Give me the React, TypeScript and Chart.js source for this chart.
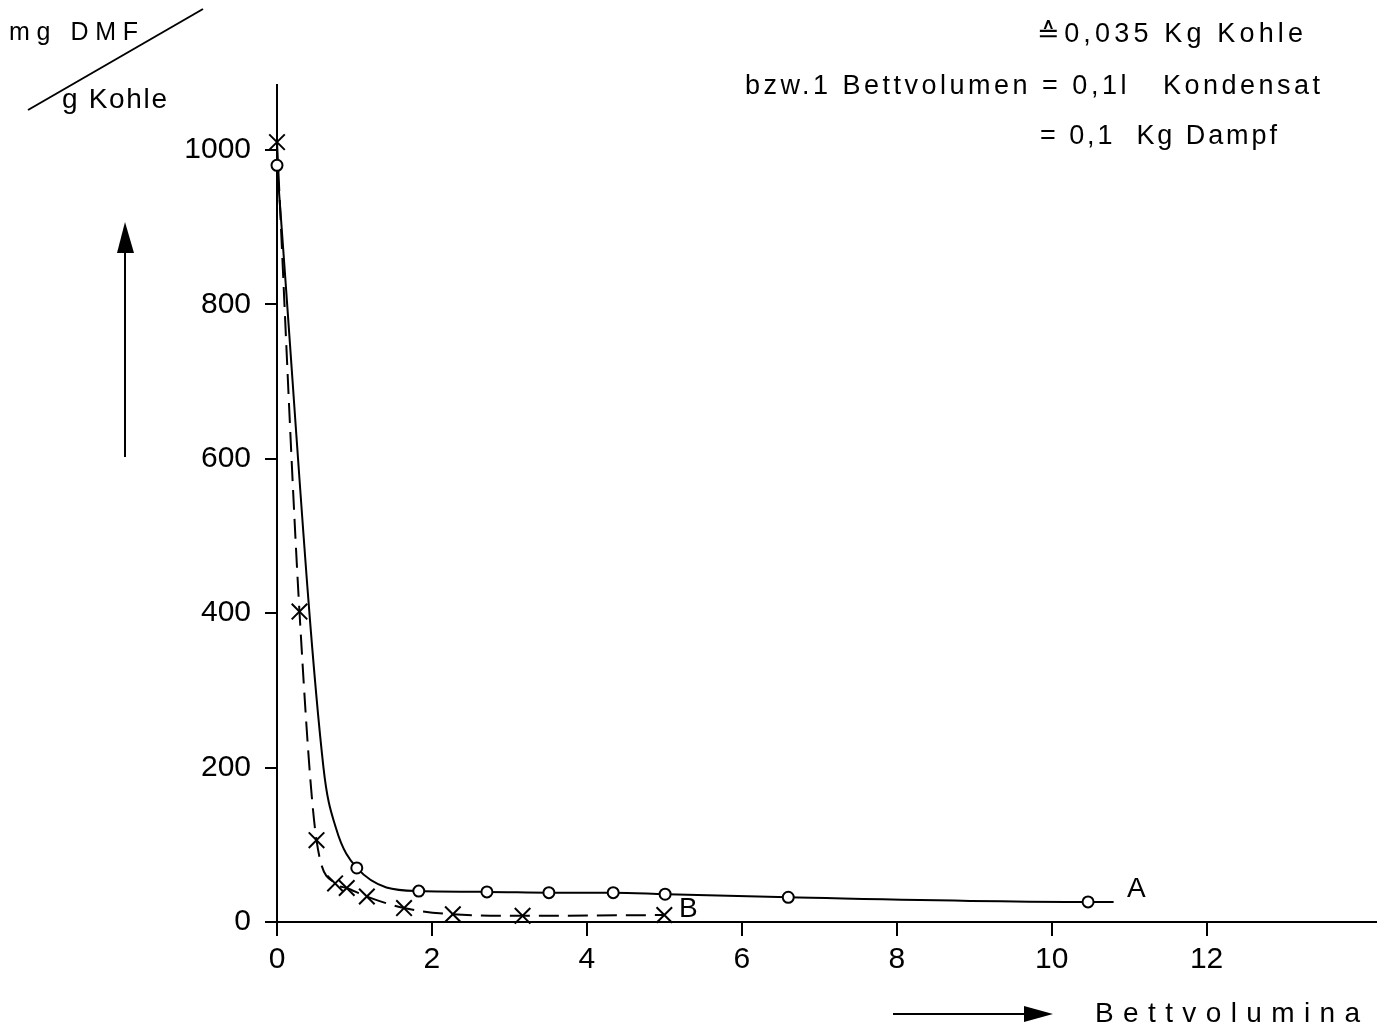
import React, { useEffect, useRef } from "react";
import { Chart, registerables } from "chart.js";

Chart.register(...registerables);

// ---- data ----
const xTickValues = [0, 2, 4, 6, 8, 10, 12];
const yTickValues = [0, 200, 400, 600, 800, 1000];

// Series A (solid line, open circles); unmarked points trace the drawn curve
const seriesAX = [0, 0.6, 0.76, 1.03, 1.83, 2.71, 3.51, 4.34, 5.01, 6.6, 10.47, 10.8];
const seriesAY = [980, 200, 122, 70, 40, 39, 38, 38, 36, 32, 26, 26];
const seriesAMarked = [true, false, false, true, true, true, true, true, true, true, true, false];

// Series B (dashed line, crosses)
const seriesBX = [0, 0.29, 0.51, 0.75, 0.9, 1.16, 1.64, 2.27, 3.17, 5.0];
const seriesBY = [1010, 402, 106, 50, 44, 33, 18, 10, 8, 9];

const FONT = "'Liberation Sans', Arial, sans-serif";

type Label = { text: string; left: number; right?: number; center: number; size: number };
const labels: Label[] = [
  { text: "mg DMF", left: 9, right: 138, center: 31, size: 25 },
  { text: "g Kohle", left: 62, right: 167, center: 99, size: 28 },
  { text: "\u22590,035 Kg Kohle", left: 1037, right: 1303, center: 33, size: 27 },
  { text: "bzw.1 Bettvolumen = 0,1l   Kondensat", left: 745, right: 1320, center: 85, size: 27 },
  { text: "= 0,1  Kg Dampf", left: 1040, right: 1277, center: 135, size: 27 },
  { text: "A", left: 1127, center: 888, size: 28 },
  { text: "B", left: 679, center: 908, size: 28 },
  { text: "Bettvolumina", left: 1095, right: 1360, center: 1013, size: 28 },
];

let measureCtx: CanvasRenderingContext2D | null = null;
function spacingFor(l: Label): number {
  if (l.right === undefined) return 0;
  if (!measureCtx) measureCtx = document.createElement("canvas").getContext("2d");
  if (!measureCtx) return 0;
  measureCtx.font = `${l.size}px ${FONT}`;
  const w = measureCtx.measureText(l.text).width;
  const n = Array.from(l.text).length;
  return (l.right - l.left - w) / Math.max(1, n - 1);
}

const decor = {
  id: "decor",
  afterDraw(chart: any) {
    const c = chart.ctx as CanvasRenderingContext2D;
    c.save();
    c.strokeStyle = "#000";
    c.fillStyle = "#000";
    c.lineWidth = 2;
    c.setLineDash([]);
    // slanted fraction bar
    c.beginPath();
    c.moveTo(28, 110);
    c.lineTo(203, 9);
    c.stroke();
    // upward arrow
    c.beginPath();
    c.moveTo(125, 457);
    c.lineTo(125, 248);
    c.stroke();
    c.beginPath();
    c.moveTo(125, 222);
    c.lineTo(117, 253);
    c.lineTo(134, 253);
    c.closePath();
    c.fill();
    // rightward arrow
    c.beginPath();
    c.moveTo(893, 1014);
    c.lineTo(1030, 1014);
    c.stroke();
    c.beginPath();
    c.moveTo(1053, 1014);
    c.lineTo(1024, 1006);
    c.lineTo(1024, 1022);
    c.closePath();
    c.fill();
    c.restore();
  },
};

export default function App() {
  const ref = useRef<HTMLCanvasElement | null>(null);

  useEffect(() => {
    if (!ref.current) return;
    const dataA = seriesAX.map((x, i) => ({ x, y: seriesAY[i] }));
    const dataB = seriesBX.map((x, i) => ({ x, y: seriesBY[i] }));
    const chart = new Chart(ref.current, {
      type: "scatter",
      data: {
        datasets: [
          {
            label: "A",
            data: dataA,
            showLine: true,
            borderColor: "#000",
            borderWidth: 2,
            cubicInterpolationMode: "monotone",
            pointStyle: "circle",
            pointRadius: seriesAMarked.map((m) => (m ? 5.5 : 0)),
            pointBackgroundColor: "#fff",
            pointBorderColor: "#000",
            pointBorderWidth: 2,
            clip: false,
          } as any,
          {
            label: "B",
            data: dataB,
            showLine: true,
            borderColor: "#000",
            borderWidth: 2,
            borderDash: [20, 9],
            cubicInterpolationMode: "monotone",
            pointStyle: "crossRot",
            pointRadius: 11,
            pointBorderColor: "#000",
            pointBorderWidth: 2,
            clip: false,
          } as any,
        ],
      },
      options: {
        animation: false,
        responsive: false,
        layout: { autoPadding: false, padding: { top: 85, right: 0, left: 0, bottom: 0 } },
        plugins: { legend: { display: false }, tooltip: { enabled: false } },
        scales: {
          x: {
            type: "linear",
            min: 0,
            max: 14.2,
            afterBuildTicks: (s: any) => {
              s.ticks = xTickValues.map((v) => ({ value: v }));
            },
            afterFit: (s: any) => {
              s.height = 113;
            },
            grid: { drawOnChartArea: false, drawTicks: true, tickLength: 14, color: "#000", lineWidth: 2 },
            border: { display: true, color: "#000", width: 2 },
            ticks: {
              color: "#000",
              font: { family: FONT, size: 30 },
              padding: 6,
              maxRotation: 0,
              autoSkip: false,
              callback: (v: any) => String(v),
            },
          },
          y: {
            type: "linear",
            min: 0,
            max: 1084,
            afterBuildTicks: (s: any) => {
              s.ticks = yTickValues.map((v) => ({ value: v }));
            },
            afterFit: (s: any) => {
              s.width = 277;
            },
            grid: { drawOnChartArea: false, drawTicks: true, tickLength: 12, color: "#000", lineWidth: 2 },
            border: { display: true, color: "#000", width: 2 },
            ticks: {
              color: "#000",
              font: { family: FONT, size: 30 },
              padding: 14,
              autoSkip: false,
              callback: (v: any) => String(v),
            },
          },
        },
      },
      plugins: [decor],
    });
    return () => chart.destroy();
  }, []);

  return (
    <div style={{ position: "absolute", left: 0, top: 0, width: 1377, height: 1035, background: "#fff", overflow: "hidden" }}>
      <canvas ref={ref} width={1377} height={1035} style={{ position: "absolute", left: 0, top: 0 }} />
      {labels.map((l, i) => (
        <div
          key={i}
          style={{
            position: "absolute",
            left: l.left,
            top: l.center - l.size / 2,
            fontFamily: FONT,
            fontSize: l.size,
            lineHeight: `${l.size}px`,
            letterSpacing: `${spacingFor(l)}px`,
            whiteSpace: "pre",
            color: "#000",
          }}
        >
          {l.text}
        </div>
      ))}
    </div>
  );
}
